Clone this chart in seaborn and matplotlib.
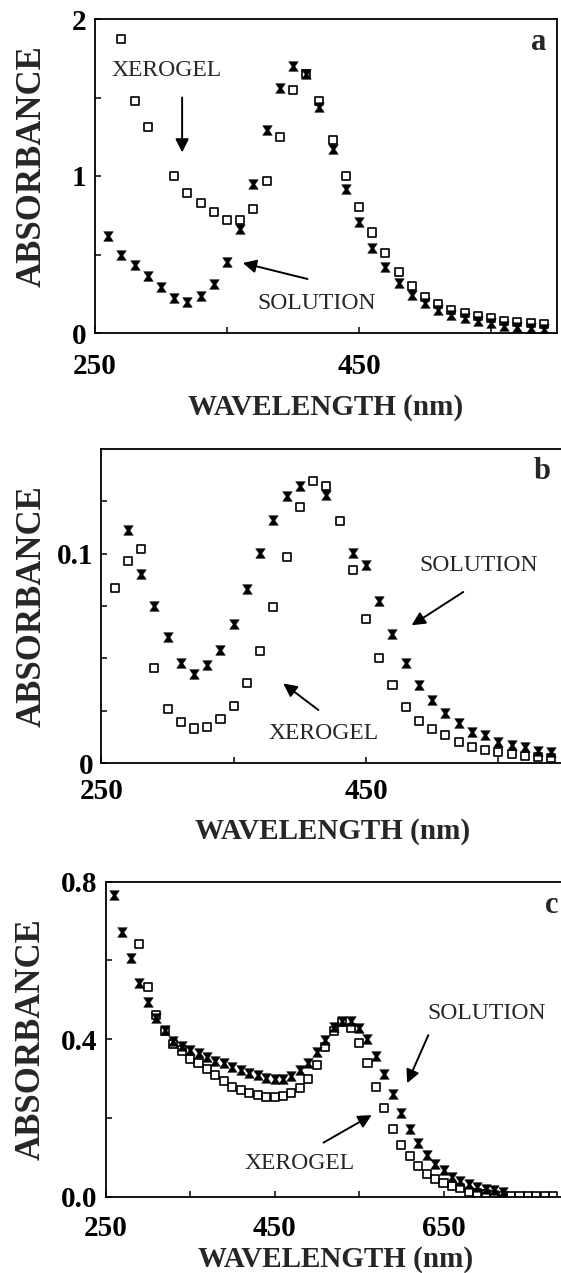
import matplotlib
matplotlib.use("Agg")
import matplotlib.pyplot as plt
import seaborn as sns

# ---- panel a: values ----
A_XERO_WL = [270, 280, 290] + list(range(310, 600, 10))
A_XERO_ABS = [1.87, 1.48, 1.31, 1.00, 0.89, 0.83, 0.77, 0.72, 0.72, 0.79, 0.97,
              1.25, 1.55, 1.65, 1.48, 1.23, 1.00, 0.80, 0.64, 0.51, 0.39, 0.30,
              0.23, 0.185, 0.146, 0.125, 0.108, 0.094, 0.078, 0.072, 0.062, 0.057]
A_SOL_WL = list(range(260, 600, 10))
A_SOL_ABS = [0.62, 0.50, 0.43, 0.36, 0.295, 0.225, 0.20, 0.235, 0.31, 0.45, 0.66,
             0.95, 1.29, 1.56, 1.70, 1.65, 1.44, 1.17, 0.92, 0.71, 0.54, 0.42,
             0.32, 0.24, 0.19, 0.146, 0.115, 0.094, 0.078, 0.062, 0.045, 0.036,
             0.030, 0.023]

# ---- panel b ----
B_XERO_WL = list(range(260, 600, 10))
B_XERO_ABS = [0.0836, 0.0964, 0.1024, 0.0452, 0.0256, 0.0197, 0.0165, 0.0173,
              0.0210, 0.0272, 0.0383, 0.0534, 0.0746, 0.0984, 0.1223, 0.1345,
              0.1322, 0.1155, 0.0921, 0.0690, 0.0502, 0.0372, 0.0269, 0.0202,
              0.0162, 0.0134, 0.0102, 0.0075, 0.0062, 0.0054, 0.0043, 0.0033,
              0.0030, 0.0022]
B_SOL_WL = list(range(270, 410, 10)) + [420] + list(range(440, 600, 10))
B_SOL_ABS = [0.1115, 0.0902, 0.0750, 0.0603, 0.0480, 0.0423, 0.0468, 0.0542,
             0.0662, 0.0833, 0.1005, 0.1163, 0.1277, 0.1322, 0.1279, 0.1003,
             0.0945, 0.0773, 0.0614, 0.0479, 0.0372, 0.0300, 0.0237, 0.0192,
             0.0146, 0.0134, 0.0102, 0.0086, 0.0075, 0.0059, 0.0051]

# ---- panel c ----
C_XERO_WL = list(range(290, 790, 10))
C_XERO_ABS = [0.642, 0.533, 0.461, 0.421, 0.388, 0.371, 0.349, 0.340, 0.323,
              0.309, 0.294, 0.279, 0.271, 0.262, 0.258, 0.254, 0.254, 0.255,
              0.262, 0.275, 0.298, 0.334, 0.381, 0.421, 0.444, 0.428, 0.391,
              0.339, 0.278, 0.224, 0.171, 0.131, 0.103, 0.078, 0.057, 0.044,
              0.034, 0.027, 0.021, 0.012, 0.008, 0.006, 0.004, 0.002, 0.001,
              0.001, 0.0, 0.0, 0.0, 0.0]
C_SOL_WL = list(range(260, 730, 10))
C_SOL_ABS = [0.767, 0.673, 0.606, 0.542, 0.495, 0.453, 0.423, 0.394, 0.383,
             0.372, 0.364, 0.355, 0.345, 0.339, 0.330, 0.322, 0.315, 0.309,
             0.300, 0.298, 0.298, 0.305, 0.322, 0.340, 0.367, 0.398, 0.432,
             0.445, 0.447, 0.429, 0.400, 0.357, 0.311, 0.260, 0.212, 0.171,
             0.135, 0.105, 0.083, 0.067, 0.049, 0.040, 0.032, 0.023, 0.018,
             0.016, 0.012]

HOURGLASS = [(-1, 1), (1, 1), (0.3, 0), (1, -1), (-1, -1), (-0.3, 0), (-1, 1)]

W, H = 561, 1273


def px_rect(left, top, right, bottom):
    return [left / W, 1 - bottom / H, (right - left) / W, (bottom - top) / H]


def draw_panel(ax, xero_wl, xero_abs, sol_wl, sol_abs, xpad, labelpad):
    sns.scatterplot(x=sol_wl, y=sol_abs, marker=HOURGLASS, s=48, color="black",
                    edgecolor="black", linewidth=0.3, ax=ax, zorder=2)
    sns.scatterplot(x=xero_wl, y=xero_abs, marker="s", s=34, facecolor="none",
                    edgecolor="black", linewidth=1.2, ax=ax, zorder=3)
    ax.tick_params(direction="in", length=4, width=1.1, colors="black",
                   labelsize=21)
    ax.tick_params(axis="x", pad=xpad)
    ax.tick_params(axis="y", pad=6)
    for spine in ax.spines.values():
        spine.set_linewidth(1.3)
        spine.set_color("black")
    ax.set_xlabel("WAVELENGTH (nm)", fontsize=21, labelpad=labelpad)
    ax.set_ylabel("ABSORBANCE", fontsize=25)


def arrow(ax, tail, head):
    ax.annotate("", xy=head, xytext=tail,
                arrowprops=dict(arrowstyle="-|>", color="black", lw=1.4,
                                mutation_scale=20, shrinkA=0, shrinkB=0))


def label(ax, x, y, text):
    ax.text(x, y, text, ha="center", va="center", fontsize=17,
            fontweight="normal")


def main() -> None:
    sns.set_theme(style="ticks")
    plt.rcParams["font.family"] = ["Liberation Serif", "DejaVu Serif"]
    plt.rcParams["font.weight"] = "bold"
    plt.rcParams["axes.labelweight"] = "bold"

    fig = plt.figure(figsize=(W / 100, H / 100), dpi=100)

    # panel a
    ax = fig.add_axes(px_rect(95, 19, 557, 333))
    draw_panel(ax, A_XERO_WL, A_XERO_ABS, A_SOL_WL, A_SOL_ABS, 14.3, 10)
    ax.set_xlim(250, 600)
    ax.set_ylim(0, 2)
    ax.set_xticks([250, 350, 450, 550], ["250", "", "450", ""])
    ax.set_yticks([0, 0.5, 1, 1.5, 2], ["0", "", "1", "", "2"])
    ax.yaxis.set_label_coords(-0.1, 0.53)
    label(ax, 304, 1.675, "XEROGEL")
    arrow(ax, (316, 1.5), (316, 1.15))
    label(ax, 418, 0.19, "SOLUTION")
    arrow(ax, (411, 0.344), (362, 0.446))
    ax.text(0.961, 0.924, "a", transform=ax.transAxes, ha="center",
            va="center", fontsize=22)

    # panel b
    ax = fig.add_axes(px_rect(101.4, 449, 564.5, 763))
    draw_panel(ax, B_XERO_WL, B_XERO_ABS, B_SOL_WL, B_SOL_ABS, 10.7, 9.5)
    ax.set_xlim(250, 600)
    ax.set_ylim(0, 0.15)
    ax.set_xticks([250, 350, 450, 550], ["250", "", "450", ""])
    ax.set_yticks([0, 0.025, 0.05, 0.075, 0.1, 0.125],
                  ["0", "", "", "", "0.1", ""])
    ax.yaxis.set_label_coords(-0.114, 0.5)
    label(ax, 535, 0.0945, "SOLUTION")
    arrow(ax, (523.5, 0.0817), (484.5, 0.0658))
    label(ax, 418, 0.0142, "XEROGEL")
    arrow(ax, (414, 0.0253), (387.5, 0.038))
    ax.text(0.951, 0.928, "b", transform=ax.transAxes, ha="center",
            va="center", fontsize=22)

    # panel c
    ax = fig.add_axes(px_rect(105.6, 881.7, 566, 1196.5))
    draw_panel(ax, C_XERO_WL, C_XERO_ABS, C_SOL_WL, C_SOL_ABS, 13.5, 2.5)
    ax.set_xlim(250, 795)
    ax.set_ylim(0, 0.8)
    ax.set_xticks([250, 350, 450, 550, 650], ["250", "", "450", "", "650"])
    ax.set_yticks([0, 0.2, 0.4, 0.6, 0.8], ["0.0", "", "0.4", "", "0.8"])
    ax.yaxis.set_label_coords(-0.126, 0.5)
    label(ax, 701, 0.466, "SOLUTION")
    arrow(ax, (632, 0.41), (607, 0.288))
    label(ax, 480, 0.084, "XEROGEL")
    arrow(ax, (508, 0.137), (565, 0.207))
    ax.text(0.969, 0.923, "c", transform=ax.transAxes, ha="center",
            va="center", fontsize=22)

    fig.savefig("out.png", dpi=100)
    plt.close(fig)


if __name__ == "__main__":
    main()
